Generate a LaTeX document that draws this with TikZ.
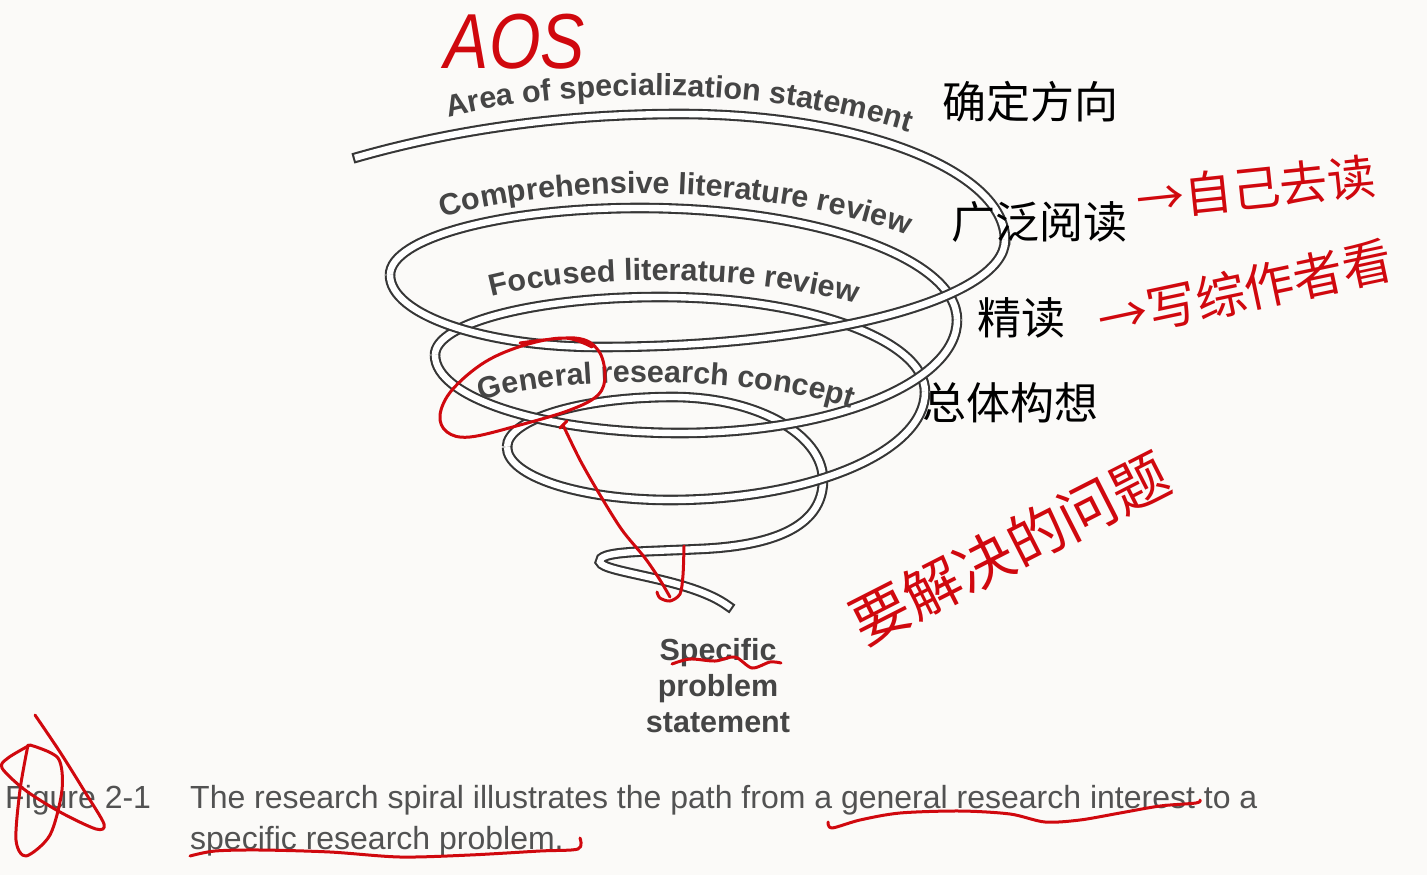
\documentclass[tikz,border=0pt]{standalone}
\usepackage{fontspec}
\setmainfont{Liberation Sans}
\newfontfamily\cjk{Noto Sans CJK SC}
\usetikzlibrary{decorations.text}
\definecolor{bg}{HTML}{FBFAF8}
\definecolor{tubecol}{HTML}{363636}
\definecolor{lblgray}{HTML}{454545}
\definecolor{capgray}{HTML}{525252}
\definecolor{ink}{RGB}{208,8,14}
\newcommand\lblfmt{\fontsize{30.5}{30.5}\selectfont\bfseries\color{lblgray}}
\begin{document}
\begin{tikzpicture}[x=1pt,y=-1pt,
  tube/.style={draw=tubecol, double=white, double distance=6.4pt, line width=2.1pt},
  lblpath/.style={decorate, decoration={text along path, text align=center}},
  cjklbl/.style={font=\cjk\fontsize{44}{44}\selectfont, text=black, inner sep=0pt},
  inktext/.style={font=\cjk\fontsize{48}{48}\selectfont, text=ink, inner sep=0pt},
  ink/.style={draw=ink, line width=3pt, line cap=round, line join=round},
  caption/.style={font=\fontsize{32}{32}\selectfont, text=capgray, inner sep=0pt},
  spec/.style={font=\fontsize{30.5}{36}\selectfont\bfseries, text=lblgray, align=center, inner sep=0pt}]
\fill[bg] (0,0) rectangle (1427,875);
\useasboundingbox (0,0) rectangle (1427,875);

% ---- spiral: back arcs (bottom to top) ----
\draw[tube,line cap=rect] (823,480) .. controls (823,528) and (770,546) .. (700,549)
   .. controls (640,552) and (598,551) .. (600,562)
   .. controls (603,573) and (690,578) .. (728,606);
\draw[tube] (507,447) arc[start angle=180,end angle=270,x radius=166,y radius=50]
   arc[start angle=270,end angle=360,x radius=150,y radius=83];
\draw[tube] (435,355) arc[start angle=180,end angle=270,x radius=225,y radius=58]
   arc[start angle=270,end angle=360,x radius=265,y radius=95];
\draw[tube] (390,275) arc[start angle=180,end angle=270,x radius=250,y radius=67]
   arc[start angle=270,end angle=360,x radius=317,y radius=112];
\draw[tube,line cap=rect] (358,157) .. controls (460,128) and (570,114) .. (680,114)
   arc[start angle=270,end angle=360,x radius=325,y radius=126];
% ---- front arcs (bottom to top) ----
\draw[tube] (925,392) arc[start angle=0,end angle=90,x radius=255,y radius=108]
   arc[start angle=90,end angle=180,x radius=163,y radius=53];
\draw[tube] (957,320) arc[start angle=0,end angle=90,x radius=277,y radius=113]
   arc[start angle=90,end angle=180,x radius=245,y radius=78];
\draw[tube] (1005,240) arc[start angle=0,end angle=90,x radius=405,y radius=107]
   arc[start angle=90,end angle=180,x radius=210,y radius=72];

% ---- curved labels ----
\path[lblpath, decoration={text={|\lblfmt|Area of specialization statement}}]
  (445,118) .. controls (560,88) and (760,84) .. (912,133);
\path[lblpath, decoration={text={|\lblfmt|Comprehensive literature review}}]
  (440,219) .. controls (540,185) and (760,180) .. (910,236);
\path[lblpath, decoration={text={|\lblfmt|Focused literature review}}]
  (488,298) .. controls (568,275) and (748,272) .. (860,305);
\path[lblpath, decoration={text={|\lblfmt|General research concept}}]
  (484,400) .. controls (554,378) and (734,372) .. (848,407);

\node[spec] (specific) at (718,686) {Specific\\problem\\statement};

% ---- Chinese labels ----
\node[cjklbl] (c1) at (1030,102) {确定方向};
\node[cjklbl] (c2) at (1039,222) {广泛阅读};
\node[cjklbl] (c3) at (1021,318) {精读};
\node[cjklbl] (c4) at (1010,403) {总体构想};

% ---- caption ----
\node[caption, anchor=base west] (fig) at (5,808) {Figure 2-1};
\node[caption, anchor=base west] (cap1) at (190,808) {The research spiral illustrates the path from a general research interest to a};
\node[caption, anchor=base west] (cap2) at (190,849) {specific research problem.};

% ---- red handwriting ----
\node[font=\itshape\fontsize{78}{78}\selectfont, text=ink, xscale=0.85, inner sep=0pt] (aos) at (515,42) {AOS};
\node[inktext, rotate=6] (h1) at (1256,188) {→自己去读};
\node[inktext, rotate=12, font=\cjk\fontsize{50}{50}\selectfont] (h2) at (1245,290) {→写综作者看};
\node[inktext, rotate=27, font=\cjk\fontsize{58}{58}\selectfont] (h3) at (1010,548) {要解决的问题};

% ---- red strokes ----
\draw[ink] plot[smooth, tension=0.6] coordinates {(520,343) (575,338) (598,350) (605,375) (598,395) (570,410) (520,425) (470,437) (447,432) (440,415) (452,390) (485,362) (525,345) (565,338) (592,347)};
\draw[ink] (560,428) -- (567,421);
\draw[ink] plot[smooth] coordinates {(563,425) (580,460) (600,495) (622,530) (645,558) (660,580) (670,597)};
\draw[ink] plot[smooth] coordinates {(684,546) (683,575) (680,594) (670,601) (660,598) (657,592)};
\draw[ink] plot[smooth] coordinates {(672,664) (690,659) (715,661) (735,657) (752,668) (770,662) (781,663)};
\draw[ink] plot[smooth] coordinates {(828,822) (832,828) (860,820) (900,813) (960,811) (1010,814) (1045,822) (1080,820) (1120,813) (1160,806) (1196,803) (1200,800)};
\draw[ink] plot[smooth] coordinates {(190,856) (215,851) (260,850) (330,852) (400,857) (470,855) (540,851) (578,849) (580,838)};
\draw[ink] plot[smooth] coordinates {(35,715) (60,752) (85,792) (104,824) (96,829) (60,812) (25,790) (2,768) (8,758) (30,745)};
\draw[ink] plot[smooth] coordinates {(30,745) (58,758) (62,790) (50,835) (26,856) (16,840) (20,790) (28,745)};
\end{tikzpicture}
\end{document}
